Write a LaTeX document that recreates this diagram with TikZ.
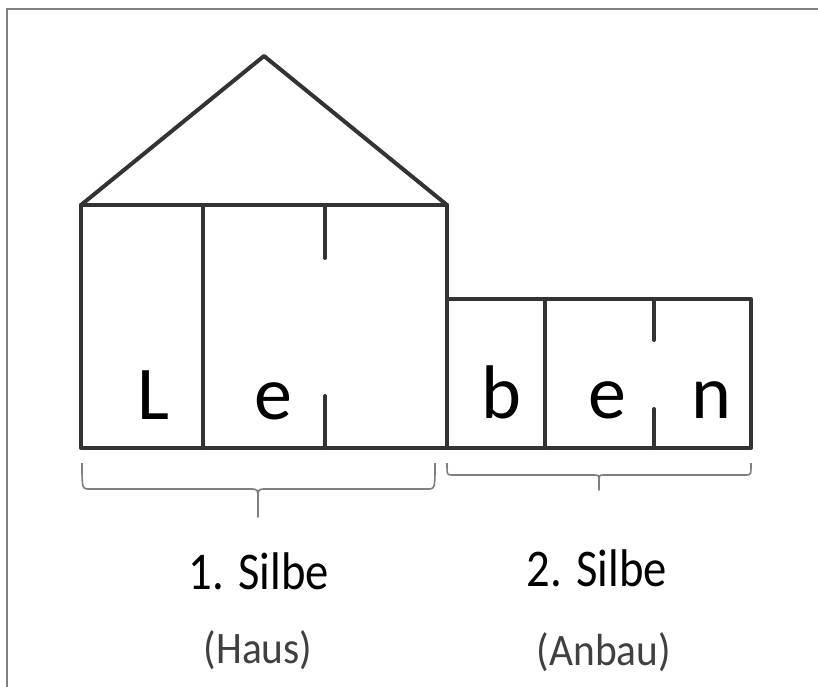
\documentclass[tikz,border=0pt]{standalone}
\usepackage{fontspec}
\setmainfont{Carlito}
\newcommand{\narrowtext}[2]{\scalebox{#1}[1]{#2}}
\begin{document}
\begin{tikzpicture}[x=1pt,y=-1pt,
  wall/.style={draw=wallc,line width=4pt,line join=round,line cap=round},
  brace/.style={draw=bracec,line width=1.6pt,line join=round},
  bigletter/.style={anchor=base,inner sep=0pt,font=\fontsize{76}{80}\selectfont,text=black},
  silbe/.style={anchor=base,inner sep=0pt,font=\fontsize{53}{58}\selectfont,text=black},
  note/.style={anchor=base,inner sep=0pt,font=\fontsize{45}{50}\selectfont,text=notec}]
\definecolor{wallc}{HTML}{333333}
\definecolor{bracec}{HTML}{7F7F7F}
\definecolor{notec}{HTML}{404040}
\definecolor{framec}{HTML}{808080}
\useasboundingbox (0,0) rectangle (818,687);
% frame
\draw[framec,line width=2pt] (7,687) -- (7,9) -- (818,9);
% house
\coordinate (hl) at (81,205);
\coordinate (hr) at (447,205);
\coordinate (apex) at (264,56);
\draw[wall] (hl) -- (apex) -- (hr);
\draw[wall] (81,205) rectangle (447,448);
\draw[wall] (203,205) -- (203,448);
\draw[wall] (325,205) -- (325,258);
\draw[wall] (325,396) -- (325,448);
% annex
\draw[wall] (447,299) rectangle (751,448);
\draw[wall] (545,299) -- (545,448);
\draw[wall] (654,299) -- (654,340);
\draw[wall] (654,409) -- (654,448);
% letters
\node[bigletter] (l1) at (153,419) {L};
\node[bigletter] (l2) at (273,419) {e};
\node[bigletter] (l3) at (501,418) {b};
\node[bigletter] (l4) at (607,418) {e};
\node[bigletter] (l5) at (711,418) {n};
% braces
\draw[brace] (82,463) .. controls (82,489) .. (90,489) -- (250,489)
  .. controls (258,489) .. (258,501) -- (258,517) -- (258,501)
  .. controls (258,489) .. (266,489) -- (427,489) .. controls (435,489) .. (435,463);
\draw[brace] (447,463) .. controls (447,475) .. (452,475) -- (594,475)
  .. controls (599,475) .. (599,482) -- (599,490) -- (599,482)
  .. controls (599,475) .. (604,475) -- (746,475) .. controls (751,475) .. (751,463);
% labels
\node[silbe] (s1) at (259,589) {\narrowtext{0.88}{1. Silbe}};
\node[silbe] (s2) at (597,586) {\narrowtext{0.88}{2. Silbe}};
\node[note] (n1) at (258,663) {\narrowtext{0.92}{(Haus)}};
\node[note] (n2) at (604,665) {\narrowtext{0.92}{(Anbau)}};
\end{tikzpicture}
\end{document}
